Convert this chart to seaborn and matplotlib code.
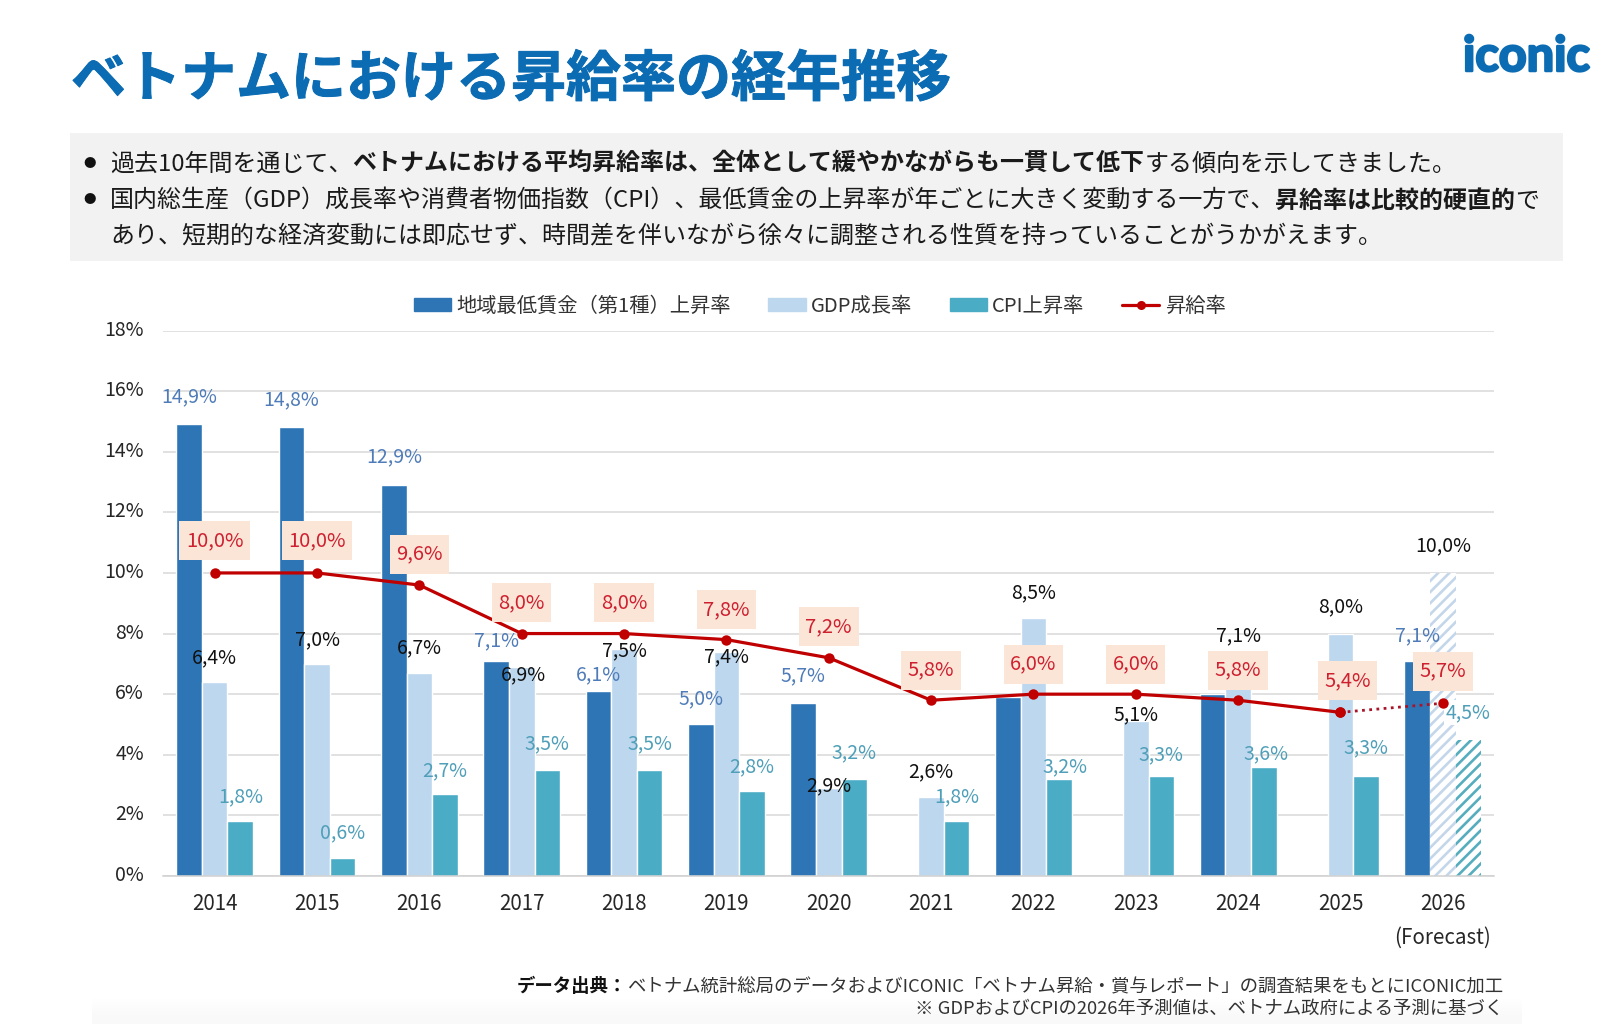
import matplotlib
matplotlib.use("Agg")
import matplotlib.pyplot as plt
import matplotlib.patheffects as pe
from matplotlib.path import Path
from matplotlib.transforms import ScaledTranslation
import seaborn as sns
import numpy as np
import pandas as pd
from matplotlib.patches import Patch, Rectangle
from matplotlib.lines import Line2D

W, H = 1615, 1033
JP = ['Noto Sans CJK JP', 'DejaVu Sans']

years = ['2014','2015','2016','2017','2018','2019','2020','2021','2022','2023','2024','2025','2026']
wage = [14.9,14.8,12.9,7.1,6.1,5.0,5.7,np.nan,5.9,np.nan,6.0,np.nan,7.1]
gdp = [6.4,7.0,6.7,6.9,7.5,7.4,2.9,2.6,8.5,5.1,7.1,8.0,10.0]
cpi = [1.8,0.6,2.7,3.5,3.5,2.8,3.2,1.8,3.2,3.3,3.6,3.3,4.5]
raise_rate = [10.0,10.0,9.6,8.0,8.0,7.8,7.2,5.8,6.0,6.0,5.8,5.4,5.7]
s_wage, s_gdp, s_cpi, s_raise = '地域最低賃金（第1種）上昇率', 'GDP成長率', 'CPI上昇率', '昇給率'

# label offsets (pixels above the mark; None = no label)
wage_dy = [28,28,28,20,16,26,27,None,None,None,None,None,25]
gdp_dy = [24,24,25,-8,-2,-5,2,25,26,7,25,27,27]
cpi_dy = [25,25,23,26,26,24,26,25,12,21,13,28,27]
raise_dy = [32,32,31,31,31,30,31,30,30,30,30,32,32]
gdp_dx = {3: 2}
cpi_dx = {8: 6, 10: 2}
raise_dx = {11: 7}

C_WAGE, C_GDP, C_CPI, C_RED = '#2e75b6', '#bdd7ee', '#4bacc6', '#c00000'
C_BLUE_T, C_CPI_T, C_TITLE = '#4f7cb8', '#4f9fb9', '#0b6cb3'

sns.set_theme(style='white')
plt.rcParams['font.family'] = JP
plt.rcParams['hatch.linewidth'] = 1.9
fig = plt.figure(figsize=(W/100, H/100), dpi=100, facecolor='white')
L, R, T, B = 163.5, 1494, 330.5, 876
ax = fig.add_axes([L/W, 1-B/H, (R-L)/W, (B-T)/H])

df = pd.DataFrame({'year': years * 3,
                   'series': [s_wage]*13 + [s_gdp]*13 + [s_cpi]*13,
                   'value': wage + gdp + cpi})
sns.barplot(data=df, x='year', y='value', hue='series', hue_order=[s_wage, s_gdp, s_cpi],
            palette=[C_WAGE, C_GDP, C_CPI], saturation=1, width=0.75, gap=0,
            legend=False, ax=ax, zorder=2, order=years)

# forecast bars hatched
for cont, col in zip(ax.containers[1:], ['#c4d6ea', '#55adbd']):
    p = cont[12]
    p.set_facecolor('white'); p.set_edgecolor(col); p.set_hatch('///'); p.set_linewidth(0)

line_df = pd.DataFrame({'year': years, 'rate': raise_rate})
sns.lineplot(data=line_df.iloc[:12], x='year', y='rate', color=C_RED, lw=2.3, marker='o',
             markersize=7.5, markeredgewidth=0, estimator=None, sort=False, ax=ax, zorder=4)
sns.lineplot(data=line_df.iloc[11:], x='year', y='rate', color='#a8152a', lw=2, ls=(0, (1, 1.6)), marker='o',
             markerfacecolor=C_RED, markersize=7.5, markeredgewidth=0, estimator=None, sort=False, ax=ax, zorder=4)

ax.set_xlim(-0.5, 12.5); ax.set_ylim(0, 18)
ax.set_yticks(range(0, 19, 2))
ax.set_yticklabels([f'{v}%' for v in range(0, 19, 2)])
ax.set_xlabel(''); ax.set_ylabel('')
ax.tick_params(axis='y', length=0, pad=14, labelsize=14, labelcolor='#262626')
ax.tick_params(axis='x', length=0, pad=12, labelsize=14.8, labelcolor='#262626')
shift = ScaledTranslation(0, 3/100, fig.dpi_scale_trans)
for t in ax.get_yticklabels():
    t.set_transform(t.get_transform() + shift)
ax.grid(axis='y', color='#d9d9d9', lw=1.1, zorder=0); ax.set_axisbelow(True)
for s in ['top', 'left', 'right']:
    ax.spines[s].set_visible(False)
ax.spines['bottom'].set_color('#d0d0d0'); ax.spines['bottom'].set_linewidth(1.1)

def fmt(v):
    return f'{v:.1f}'.replace('.', ',') + '%'

def lab(x, v, dx, dy, color, size=14, z=6, **kw):
    ax.annotate(fmt(v), xy=(x, v), xytext=(dx*0.72, dy*0.72), textcoords='offset points',
                ha='center', va='center', fontsize=size, color=color, zorder=z, annotation_clip=False, **kw)

def red_box(x0, y0, w, h, mutation_size):
    px, py = 6.5, 9
    x1, y1 = x0 - px, y0 - py
    x2, y2 = x0 + w + px, y0 + h + py
    return Path([(x1, y1), (x2, y1), (x2, y2), (x1, y2), (x1, y1)], closed=True)

OFF = 0.25
for i in range(13):
    if wage_dy[i] is not None:
        lab(i-OFF, wage[i], 0, wage_dy[i], C_BLUE_T)
    lab(i, gdp[i], gdp_dx.get(i, 0), gdp_dy[i], '#111111')
    if i == 12:
        lab(i+OFF, cpi[i], cpi_dx.get(i, 0), cpi_dy[i], C_CPI_T, z=3,
            bbox=dict(boxstyle='square,pad=0.1', fc='white', ec='none'))
    else:
        lab(i+OFF, cpi[i], cpi_dx.get(i, 0), cpi_dy[i], C_CPI_T)
    lab(i, raise_rate[i], raise_dx.get(i, 0), raise_dy[i], '#cf2030', size=14.5,
        bbox=dict(boxstyle=red_box, fc='#fbe5d6', ec='none'))

ax.annotate('(Forecast)', xy=(12, 0), xytext=(0, -62*0.72), textcoords='offset points',
            ha='center', va='center', fontsize=14.8, color='#262626', annotation_clip=False)

handles = [Patch(color=C_WAGE), Patch(color=C_GDP), Patch(color=C_CPI),
           Line2D([], [], color=C_RED, lw=2.3, marker='o', ms=6.5, mew=0)]
fig.legend(handles, [s_wage, s_gdp, s_cpi, s_raise], loc='center', bbox_to_anchor=(819.5/W, 1-306/H),
           ncol=4, frameon=False, fontsize=14.6, handlelength=1.85, handleheight=0.6, handletextpad=0.25,
           columnspacing=1.85, labelcolor='#333333', borderpad=0, borderaxespad=0)

def ftext(x, y, s, **kw):
    kw.setdefault('va', 'center')
    return fig.text(x/W, 1-y/H, s, **kw)

t = ftext(71, 80, 'ベトナムにおける昇給率の経年推移', fontsize=39.6, weight='bold', color=C_TITLE)
t.set_path_effects([pe.withStroke(linewidth=0.7, foreground=C_TITLE)])
logo = ftext(1463, 71, 'iconic', fontsize=35, weight='bold', color=C_TITLE, family='Lato', va='baseline')
logo.set_path_effects([pe.withStroke(linewidth=1.8, foreground=C_TITLE)])

fig.add_artist(Rectangle((70/W, 1-261/H), (1563-70)/W, 128/H, transform=fig.transFigure,
                         fc='#f2f2f2', ec='none', zorder=-1))

bg = fig.add_axes([92/W, 1-1024/H, (1522-92)/W, 36/H], zorder=-2)
bg.imshow(np.array([[1.0], [0.975]]), cmap='gray', vmin=0, vmax=1, aspect='auto', interpolation='bilinear')
bg.axis('off')

def rich(x, y, parts, size=17.25, color='#1a1a1a'):
    r = fig.canvas.get_renderer()
    for s, bold in parts:
        t = ftext(x, y, s, fontsize=size, color=color, weight='bold' if bold else 'normal')
        x = t.get_window_extent(r).x1
    return x

ftext(90, 163, '●', fontsize=9, color='#111111', ha='center')
ftext(90, 200, '●', fontsize=9, color='#111111', ha='center')
rich(110, 164, [('過去10年間を通じて、', False), ('ベトナムにおける平均昇給率は、全体として緩やかながらも一貫して低下', True),
                ('する傾向を示してきました。', False)])
rich(110, 201, [('国内総生産（GDP）成長率や消費者物価指数（CPI）、最低賃金の上昇率が年ごとに大きく変動する一方で、', False),
                ('昇給率は比較的硬直的', True), ('で', False)])
rich(110, 237, [('あり、短期的な経済変動には即応せず、時間差を伴いながら徐々に調整される性質を持っていることがうかがえます。', False)])

r = fig.canvas.get_renderer()
plain = ftext(1503, 987, 'ベトナム統計総局のデータおよびICONIC「ベトナム昇給・賞与レポート」の調査結果をもとにICONIC加工',
              fontsize=13.25, color='#333333', ha='right')
ftext(plain.get_window_extent(r).x0, 987, 'データ出典：', fontsize=13.25, weight='bold', color='#111111', ha='right')
ftext(1503, 1009, '※ GDPおよびCPIの2026年予測値は、ベトナム政府による予測に基づく', fontsize=13.25, color='#333333', ha='right')

fig.savefig('out.png', dpi=100, facecolor='white')
